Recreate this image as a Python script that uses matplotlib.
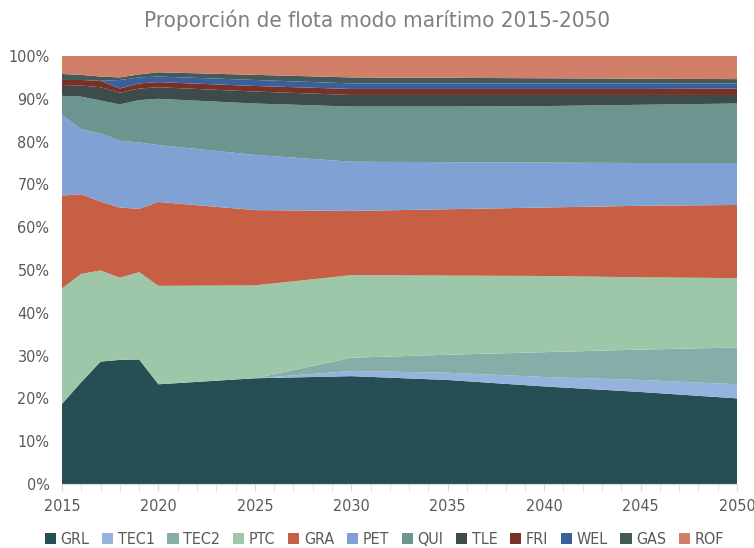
import matplotlib.pyplot as plt
import matplotlib.patches as mpatches
from matplotlib.ticker import FuncFormatter, MultipleLocator
import numpy as np

plt.rcParams['font.family'] = ['DejaVu Sans']
plt.rcParams['font.stretch'] = 'condensed'

years = [2015, 2016, 2017, 2018, 2019, 2020, 2025, 2030, 2035, 2040, 2045, 2050]

grl = [18.7, 23.8, 28.6, 29.0, 29.1, 23.3, 24.7, 25.2, 24.3, 22.8, 21.5, 20.0]
tec1 = [0, 0, 0, 0, 0, 0, 0, 1.2, 1.7, 2.2, 2.8, 3.3]
tec2 = [0, 0, 0, 0, 0, 0, 0, 3.1, 4.2, 5.8, 7.1, 8.6]
ptc = [27.0, 25.3, 21.3, 19.2, 20.4, 23.0, 21.7, 19.3, 18.5, 17.8, 16.9, 16.2]
gra = [21.7, 18.6, 16.1, 16.4, 14.8, 19.6, 17.6, 15.0, 15.5, 16.0, 16.7, 17.1]
pet = [18.8, 15.2, 15.9, 15.6, 15.5, 13.3, 12.9, 11.5, 11.0, 10.5, 10.0, 9.8]
qui = [4.5, 7.6, 7.7, 8.5, 9.9, 10.8, 12.0, 12.9, 13.0, 13.2, 13.6, 13.9]
tle = [2.3, 2.6, 3.1, 2.7, 2.7, 2.7, 2.8, 2.7, 2.7, 2.6, 2.3, 2.0]
fri = [1.4, 1.3, 1.5, 1.0, 1.2, 1.2, 1.3, 1.4, 1.4, 1.4, 1.4, 1.5]
wel = [0, 0, 0, 2.0, 1.4, 1.3, 1.4, 1.3, 1.3, 1.3, 1.3, 1.2]
gas = [1.4, 1.2, 1.0, 0.6, 0.7, 1.0, 1.2, 1.4, 1.3, 1.2, 1.1, 1.0]
rof = [4.2, 4.4, 4.8, 5.0, 4.3, 3.8, 4.4, 5.0, 5.1, 5.2, 5.3, 5.4]

nombres = ['GRL', 'TEC1', 'TEC2', 'PTC', 'GRA', 'PET', 'QUI', 'TLE', 'FRI', 'WEL', 'GAS', 'ROF']
colores = ['#254F55', '#95B3DC', '#86ADA8', '#9EC7AA', '#C65F43', '#7FA1D4',
           '#6B958E', '#3E4B4B', '#7A3125', '#3A5F9C', '#445A58', '#D17F68']

series = np.array([grl, tec1, tec2, ptc, gra, pet, qui, tle, fri, wel, gas, rof], dtype=float)
# proporcion: cada año suma 100%
series = series / series.sum(axis=0)

fig = plt.figure(figsize=(7.54, 5.48), dpi=100)
ax = fig.add_axes([0.0822, 0.1168, 0.8953, 0.781])

ax.stackplot(years, series, colors=colores, linewidth=0)

ax.set_xlim(2015, 2050)
ax.set_ylim(0, 1)
ax.xaxis.set_major_locator(MultipleLocator(5))
ax.xaxis.set_minor_locator(MultipleLocator(1))
ax.yaxis.set_major_locator(MultipleLocator(0.1))
ax.yaxis.set_major_formatter(FuncFormatter(lambda v, p: '%d%%' % round(v * 100)))

for s in ['top', 'right', 'left']:
    ax.spines[s].set_visible(False)
ax.spines['bottom'].set_color('#D9D9D9')
ax.tick_params(axis='x', which='both', direction='out', color='#D9D9D9', length=5,
               labelsize=11.5, labelcolor='#595959', pad=6)
ax.tick_params(axis='y', length=0, labelsize=11.5, labelcolor='#595959', pad=9)

fig.text(0.5, 0.963, 'Proporción de flota modo marítimo 2015-2050', ha='center', va='center',
         fontsize=16, color='#7F7F7F')

recs = []
for c in colores:
    recs.append(mpatches.Rectangle((0, 0), 1, 1, fc=c))
fig.legend(recs, nombres, loc='center', bbox_to_anchor=(0.51, 0.015), ncol=12, frameon=False,
           fontsize=11.5, labelcolor='#595959', handlelength=0.7, handleheight=0.7,
           handletextpad=0.3, columnspacing=0.78)

fig.savefig('out.png', dpi=100)
